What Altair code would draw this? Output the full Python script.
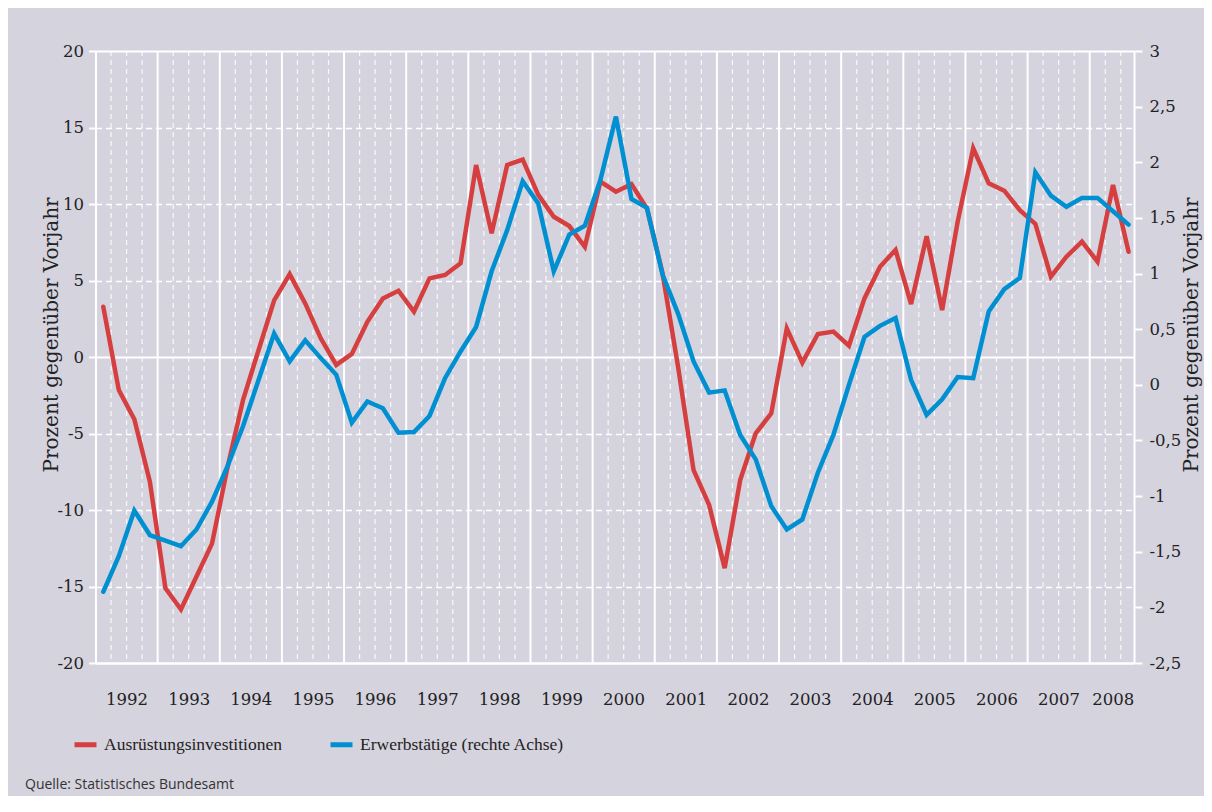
import altair as alt
import pandas as pd

# ---- data (quarterly, 1992 Q1 .. 2008 Q3) ----
invest = [3.29, -2.16, -4.07, -8.15,
          -15.1, -16.5, -14.35, -12.2,
          -7.2, -2.8, 0.46, 3.7,
          5.42, 3.5, 1.22, -0.52,
          0.2, 2.3, 3.83, 4.33,
          2.96, 5.14, 5.36, 6.12,
          12.55, 8.08, 12.55, 12.9,
          10.6, 9.17, 8.56, 7.2,
          11.46, 10.8, 11.3, 9.7,
          5.47, -0.63, -7.4, -9.67,
          -13.8, -8.04, -4.99, -3.68,
          1.87, -0.37, 1.5, 1.66,
          0.74, 3.83, 5.9, 7.0,
          3.46, 7.9, 3.07, 8.85,
          13.64, 11.35, 10.87, 9.6,
          8.7, 5.25, 6.56, 7.54,
          6.23, 11.24, 6.88]
employ = [-1.86, -1.54, -1.13, -1.35,
          -1.40, -1.45, -1.30, -1.05,
          -0.73, -0.37, 0.045, 0.46,
          0.21, 0.40, 0.24, 0.09,
          -0.34, -0.15, -0.21, -0.43,
          -0.425, -0.28, 0.06, 0.30,
          0.52, 1.02, 1.39, 1.83,
          1.63, 1.02, 1.35, 1.43,
          1.84, 2.41, 1.67, 1.59,
          0.99, 0.64, 0.21, -0.07,
          -0.05, -0.45, -0.67, -1.09,
          -1.30, -1.21, -0.79, -0.45,
          0.0, 0.43, 0.53, 0.60,
          0.045, -0.27, -0.13, 0.07,
          0.06, 0.66, 0.86, 0.96,
          1.91, 1.70, 1.60, 1.68,
          1.68, 1.56, 1.44]
series_names = ["Ausrüstungsinvestitionen", "Erwerbstätige (rechte Achse)"]
series_colors = ["#d63f3f", "#0090d2"]
left_ticks = [-20, -15, -10, -5, 0, 5, 10, 15, 20]
right_ticks = [-2.5, -2, -1.5, -1, -0.5, 0, 0.5, 1, 1.5, 2, 2.5, 3]
first_year = 1992
source_text = ["Quelle: Statistisches Bundesamt"]
y_title = "Prozent gegenüber Vorjahr"

n = len(invest)
qpos = [i + 0.5 for i in range(n)]
df_inv = pd.DataFrame({"q": qpos, "v": invest, "series": series_names[0]})
df_emp = pd.DataFrame({"q": qpos, "v": employ, "series": series_names[1]})

# quarter / year boundaries for the vertical grid
bounds = list(range(1, n))
df_qlines = pd.DataFrame({"b": [b for b in bounds if b % 4 != 0]})
df_ylines = pd.DataFrame({"b": [b for b in bounds if b % 4 == 0]})

AX_FONT = "DejaVu Serif"
TXT = "#222222"
BG = "#d5d3de"

xscale = alt.Scale(domain=[0, 66.85], nice=False, zero=False)
color = alt.Color(
    "series:N",
    scale=alt.Scale(domain=series_names, range=series_colors),
    legend=alt.Legend(
        title=None, orient="none", legendX=-23.5, legendY=680,
        direction="horizontal", symbolType="stroke", symbolStrokeWidth=5,
        symbolSize=484, labelFont="Liberation Serif", labelFontSize=17.5,
        labelColor=TXT, columnPadding=38, labelOffset=5, padding=0,
        labelLimit=0,
    ),
)

x_axis = alt.Axis(
    values=list(range(0, 65, 4)), title=None, ticks=False,
    domain=True, domainColor="white", domainWidth=2,
    grid=False,
    labelExpr=f"toString({first_year} + datum.value / 4)",
    labelOffset={"condition": {"test": "datum.value === 64", "value": 23}, "value": 31},
    labelOverlap=False, labelPadding=28, labelFont=AX_FONT, labelFontSize=16.5,
    labelColor=TXT, labelAlign="center",
)

left_axis = alt.Axis(
    values=left_ticks, orient="left", title=y_title,
    titleFont=AX_FONT, titleFontSize=20, titleFontWeight="normal", titleColor=TXT,
    titleAngle=270, titleX=-44.5, titleY=421, titleAlign="left", titleBaseline="middle",
    grid=True, gridColor="white",
    gridDash={"condition": {"test": "datum.value % 20 === 0", "value": [1, 0]}, "value": [6, 4]},
    gridWidth={"condition": {"test": "datum.value % 20 === 0", "value": 2}, "value": 1.3},
    domain=True, domainColor="white", domainWidth=2,
    ticks=True, tickColor="white", tickSize=7, tickWidth=2,
    labelExpr="toString(datum.value)", labelPadding=5,
    labelFont=AX_FONT, labelFontSize=16.5, labelColor=TXT,
)

right_axis = alt.Axis(
    values=right_ticks, orient="right", title=y_title,
    titleFont=AX_FONT, titleFontSize=20, titleFontWeight="normal", titleColor=TXT,
    titleAngle=270, titleX=57, titleY=421, titleAlign="left", titleBaseline="middle",
    grid=False, domain=True, domainColor="white", domainWidth=2,
    ticks=True, tickColor="white", tickSize=8, tickWidth=2,
    labelExpr="replace(toString(datum.value), '.', ',')", labelPadding=7,
    labelFont=AX_FONT, labelFontSize=16.5, labelColor=TXT,
)

qlines = alt.Chart(df_qlines).mark_rule(
    color="white", strokeWidth=1.2, strokeDash=[5, 4], opacity=0.85
).encode(x=alt.X("b:Q", scale=xscale, axis=x_axis))

ylines = alt.Chart(df_ylines).mark_rule(color="white", strokeWidth=2).encode(
    x=alt.X("b:Q", scale=xscale)
)

red = alt.Chart(df_inv).mark_line(strokeWidth=4.5, strokeCap="round").encode(
    x=alt.X("q:Q", scale=xscale),
    y=alt.Y("v:Q", scale=alt.Scale(domain=[-20, 20], nice=False, zero=False), axis=left_axis),
    color=color,
)

blue = alt.Chart(df_emp).mark_line(strokeWidth=4.5, strokeCap="round").encode(
    x=alt.X("q:Q", scale=xscale),
    y=alt.Y("v:Q", scale=alt.Scale(domain=[-2.5, 3], nice=False, zero=False), axis=right_axis),
    color=color,
)

source = alt.Chart(pd.DataFrame({"t": source_text})).mark_text(
    align="left", baseline="alphabetic", font="Open Sans", fontSize=14, color="#333333"
).encode(x=alt.value(-70.5), y=alt.value(738), text="t:N")

chart = (
    alt.layer(qlines, ylines, red, blue, source)
    .resolve_scale(y="independent")
    .properties(
        width=1038.5, height=612,
        autosize=alt.AutoSizeParams(type="none"),
        padding={"left": 87.5, "top": 43, "right": 70, "bottom": 133},
        background=BG,
    )
    .configure_view(stroke=None)
)

chart.save("out.html", embed_options={"renderer": "svg", "actions": False})
